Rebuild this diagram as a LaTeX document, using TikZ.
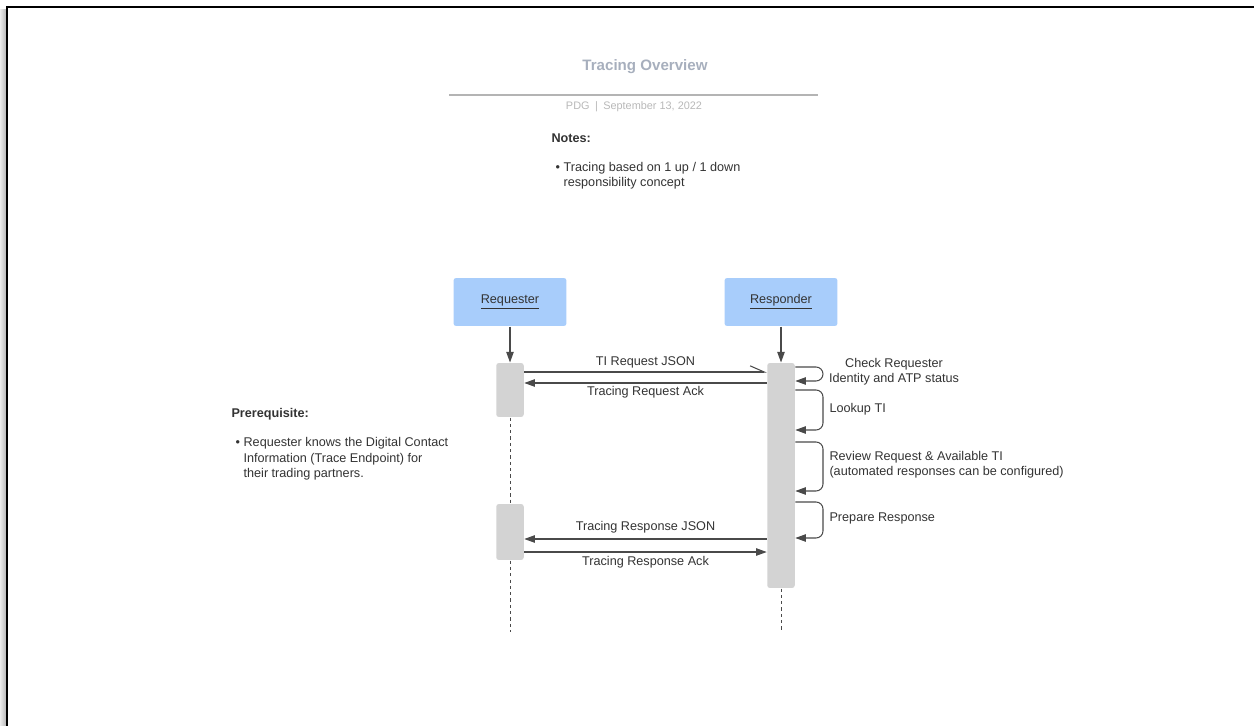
\documentclass[tikz,border=0pt]{standalone}
\usepackage{fontspec}
\setmainfont{Liberation Sans}
\usetikzlibrary{shapes, positioning, arrows.meta}
\usetikzlibrary{calc}

\definecolor{boxblue}{HTML}{A8CDFB}
\definecolor{bargray}{HTML}{D3D3D3}
\definecolor{linegray}{HTML}{4A4A4A}
\definecolor{textgray}{HTML}{333333}
\definecolor{titlegray}{HTML}{A7AFBD}
\definecolor{dategray}{HTML}{B8B8B8}
\definecolor{rulegray}{HTML}{B4B4B4}

\begin{document}
\begin{tikzpicture}[x=0.02cm, y=-0.02cm, line width=.6pt,
  txt/.style={inner sep=0pt, text=textgray, font=\fontsize{7.2}{8.6}\selectfont},
  actor/.style={txt, rectangle, rounded corners=1.5pt, fill=boxblue, minimum width=2.26cm, minimum height=0.96cm},
  bar/.style={rectangle, rounded corners=1.5pt, fill=bargray, minimum width=0.55cm},
  arr/.style={draw=linegray, -{Triangle[length=6pt,width=4.2pt]}},
  life/.style={draw=linegray, dash pattern=on 1.8pt off 1.8pt, line width=.5pt}]
\useasboundingbox (0,0) rectangle (1254,726);
% Frame
\shade[left color=gray!15, right color=gray!55] (0,10) rectangle (6,726);
\draw[line width=1.3pt, black] (7,726) -- (7,7) -- (1254,7);
% Title
\node[txt, font=\bfseries\fontsize{8.6}{10}\selectfont, text=titlegray] (title) at (645,67) {Tracing Overview};
\draw[rulegray, line width=1.1pt] (449,95) -- (818,95);
\node[txt, font=\fontsize{6.2}{7.5}\selectfont, text=dategray] (date) at (634,107) {PDG\enspace|\enspace September 13, 2022};
% Notes
\node[txt, font=\bfseries\fontsize{7.2}{8.6}\selectfont, anchor=west] (notes) at (551,138) {Notes:};
\node[txt, anchor=west] (note1) at (555,176) {\makebox[4.6pt][l]{\textbullet}\begin{tabular}[t]{@{}l@{}}Tracing based on 1 up / 1 down\\responsibility concept\end{tabular}};
% Prerequisite
\node[txt, font=\bfseries\fontsize{7.2}{8.6}\selectfont, anchor=west] (prereq) at (231,414) {Prerequisite:};
\node[txt, anchor=west] (prereq1) at (235,459) {\makebox[4.6pt][l]{\textbullet}\begin{tabular}[t]{@{}l@{}}Requester knows the Digital Contact\\Information (Trace Endpoint) for\\their trading partners.\end{tabular}};
% Actors and activation bars
\node[actor] (req) at (510,302) {\underline{Requester}};
\node[actor] (rsp) at (781,302) {\underline{Responder}};
\node[bar, minimum height=1.08cm] (reqbar1) at (510,390) {};
\node[bar, minimum height=4.5cm] (rspbar) at (781,475.5) {};
\node[bar, minimum height=1.12cm] (reqbar2) at (510,532) {};
\coordinate (reqend) at (510,632);
\coordinate (rspend) at (781,632);
% Lifelines
\draw[arr] (req) -- (reqbar1);
\draw[arr] (rsp) -- (rspbar);
\draw[life] (reqbar1.south) -- (reqbar2.north);
\draw[life] (reqbar2.south) -- (reqend);
\draw[life] (rspbar.south) -- (rspend);
% Messages
\draw[linegray, -{Straight Barb[harpoon, length=8pt, width=7pt]}] (reqbar1.east |- 0,372) -- node[txt, above=2pt] (m1) {TI Request JSON} (rspbar.west |- 0,372);
\draw[arr] (rspbar.west |- 0,383) -- node[txt, below=1.5pt] (m2) {Tracing Request Ack} (reqbar1.east |- 0,383);
\draw[arr] (rspbar.west |- 0,539) -- node[txt, above=3pt] (m3) {Tracing Response JSON} (reqbar2.east |- 0,539);
\draw[arr] (reqbar2.east |- 0,552) -- node[txt, below=2.4pt] (m4) {Tracing Response Ack} (rspbar.west |- 0,552);
% Self calls
\draw[arr, rounded corners=4pt] (rspbar.east |- 0,367) -| (823,381) -- (rspbar.east |- 0,381);
\draw[arr, rounded corners=4pt] (rspbar.east |- 0,390) -| (823,430) -- (rspbar.east |- 0,430);
\draw[arr, rounded corners=4pt] (rspbar.east |- 0,442) -| (823,491) -- (rspbar.east |- 0,491);
\draw[arr, rounded corners=4pt] (rspbar.east |- 0,502) -| (823,538) -- (rspbar.east |- 0,538);
\node[txt, align=center] (check) at (894,372) {Check Requester\\Identity and ATP status};
\node[txt, anchor=west] (lookup) at (829,409) {Lookup TI};
\node[txt, anchor=west, align=left] (review) at (829,464.5) {Review Request \& Available TI\\(automated responses can be configured)};
\node[txt, anchor=west] (prepare) at (829,518) {Prepare Response};
\end{tikzpicture}
\end{document}
